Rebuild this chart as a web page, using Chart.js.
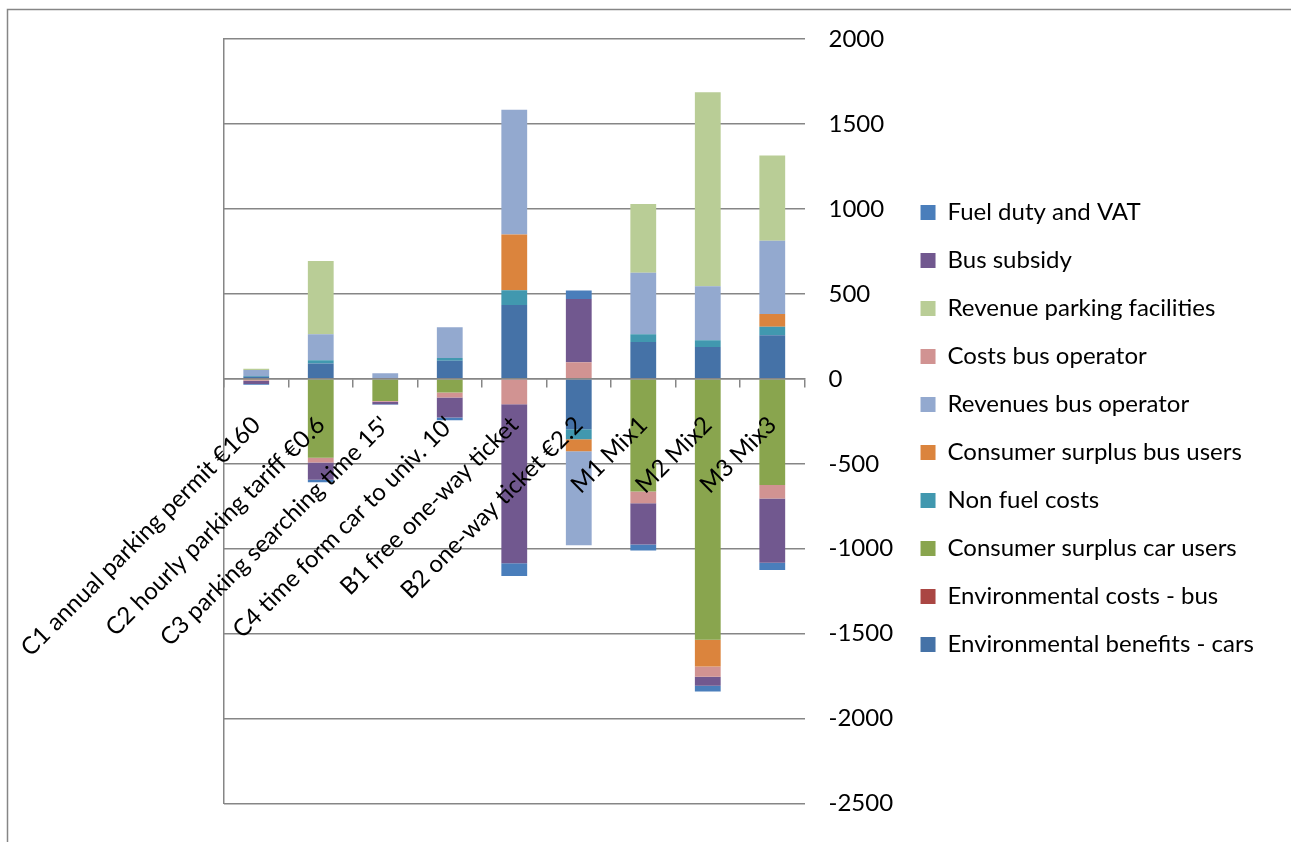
<!DOCTYPE html>
<html>
<head>
<meta charset="utf-8">
<script src="https://cdn.jsdelivr.net/npm/chart.js@4/dist/chart.umd.min.js"></script>
<style>
  html, body { margin: 0; padding: 0; background: #fff; }
  #wrap { width: 1291px; height: 842px; position: relative; }
</style>
</head>
<body>
<div id="wrap"><canvas id="chart"></canvas></div>
<script>
// categories (scenarios)
const categories = [
  "C1 annual parking permit €160",
  "C2 hourly parking tariff €0.6",
  "C3 parking searching time 15'",
  "C4 time form car to univ. 10'",
  "B1 free one-way ticket",
  "B2 one-way ticket €2.2",
  "M1 Mix1",
  "M2 Mix2",
  "M3 Mix3"
];

// series, in stacking order (closest to zero first)
const envBenefitsCars   = [12, 90, 5, 106, 435, -297, 217, 188, 257];
const envCostsBus       = [0, 0, 0, 0, 0, 0, 0, 0, 0];
const csCarUsers        = [-2, -465, -130, -81, 0, 0, -663, -1535, -625];
const nonFuelCosts      = [5, 19, 0, 16, 87, -58, 46, 39, 50];
const csBusUsers        = [0, 0, 0, 0, 327, -71, 0, -158, 75];
const revenuesBusOp     = [35, 154, 28, 181, 734, -553, 362, 318, 430];
const costsBusOp        = [-10, -27, -5, -29, -150, 98, -69, -60, -79];
const revenueParking    = [8, 430, 0, 0, 0, 0, 404, 1142, 502];
const busSubsidy        = [-19, -102, -14, -117, -936, 372, -243, -54, -379];
const fuelDutyVat       = [-4, -14, -3, -17, -75, 50, -35, -33, -42];

// value axis
const yMin = -2500;
const yMax = 2000;
const yStep = 500;

const FONT = "Lato";
const GRID = "#868686";

const frame = {
  id: "frame",
  afterDraw(chart) {
    const c = chart.ctx;
    c.save();
    c.strokeStyle = GRID;
    c.lineWidth = 1.5;
    c.strokeRect(7.5, 9.5, 1400, 1000);
    c.restore();
  }
};

function ds(label, data, color) {
  return {
    label: label,
    data: data,
    backgroundColor: color,
    borderWidth: 0,
    stack: "s",
    categoryPercentage: 1,
    barPercentage: 0.4
  };
}

// legend shows the last series first, like the original
new Chart(document.getElementById("chart"), {
  type: "bar",
  data: {
    labels: categories,
    datasets: [
      ds("Environmental benefits - cars", envBenefitsCars, "#4572A7"),
      ds("Environmental costs - bus", envCostsBus, "#AA4643"),
      ds("Consumer surplus car users", csCarUsers, "#89A54E"),
      ds("Non fuel costs", nonFuelCosts, "#4198AF"),
      ds("Consumer surplus bus users", csBusUsers, "#DB843D"),
      ds("Revenues bus operator", revenuesBusOp, "#93A9CF"),
      ds("Costs bus operator", costsBusOp, "#D19392"),
      ds("Revenue parking facilities", revenueParking, "#B9CD96"),
      ds("Bus subsidy", busSubsidy, "#71588F"),
      ds("Fuel duty and VAT", fuelDutyVat, "#4A7EBB")
    ]
  },
  options: {
    responsive: true,
    maintainAspectRatio: false,
    animation: false,
    layout: {
      padding: { left: 224, top: 39, bottom: 24, right: 27 }
    },
    plugins: {
      tooltip: { enabled: false },
      legend: {
        position: "right",
        reverse: true,
        maxWidth: 420,
        labels: {
          boxWidth: 15,
          boxHeight: 15,
          padding: 24,
          color: "#000",
          font: { family: FONT, size: 24 }
        }
      }
    },
    scales: {
      x: {
        stacked: true,
        position: { y: 0 },
        grid: {
          offset: true,
          drawOnChartArea: false,
          drawTicks: true,
          tickLength: 8,
          color: GRID,
          lineWidth: 1.5
        },
        border: { color: GRID, width: 1.5, z: 1 },
        ticks: {
          minRotation: 45,
          maxRotation: 45,
          autoSkip: false,
          padding: 24,
          z: 1,
          color: "#000",
          font: { family: FONT, size: 24 }
        },
        afterFit: s => { s.paddingLeft = 0; s.paddingRight = 0; }
      },
      y: {
        stacked: true,
        position: "right",
        min: yMin,
        max: yMax,
        grid: { color: GRID, lineWidth: 1.5, drawTicks: false },
        border: { display: false },
        ticks: {
          stepSize: yStep,
          padding: 24,
          color: "#000",
          font: { family: FONT, size: 24 },
          callback: v => String(v)
        },
        afterFit: s => { s.width = 92; }
      },
      yLeft: {
        position: "left",
        grid: { display: false, drawTicks: false },
        ticks: { display: false },
        border: { display: true, color: GRID, width: 1.5 },
        afterFit: s => { s.width = 0; }
      }
    }
  },
  plugins: [frame]
});
</script>
</body>
</html>
